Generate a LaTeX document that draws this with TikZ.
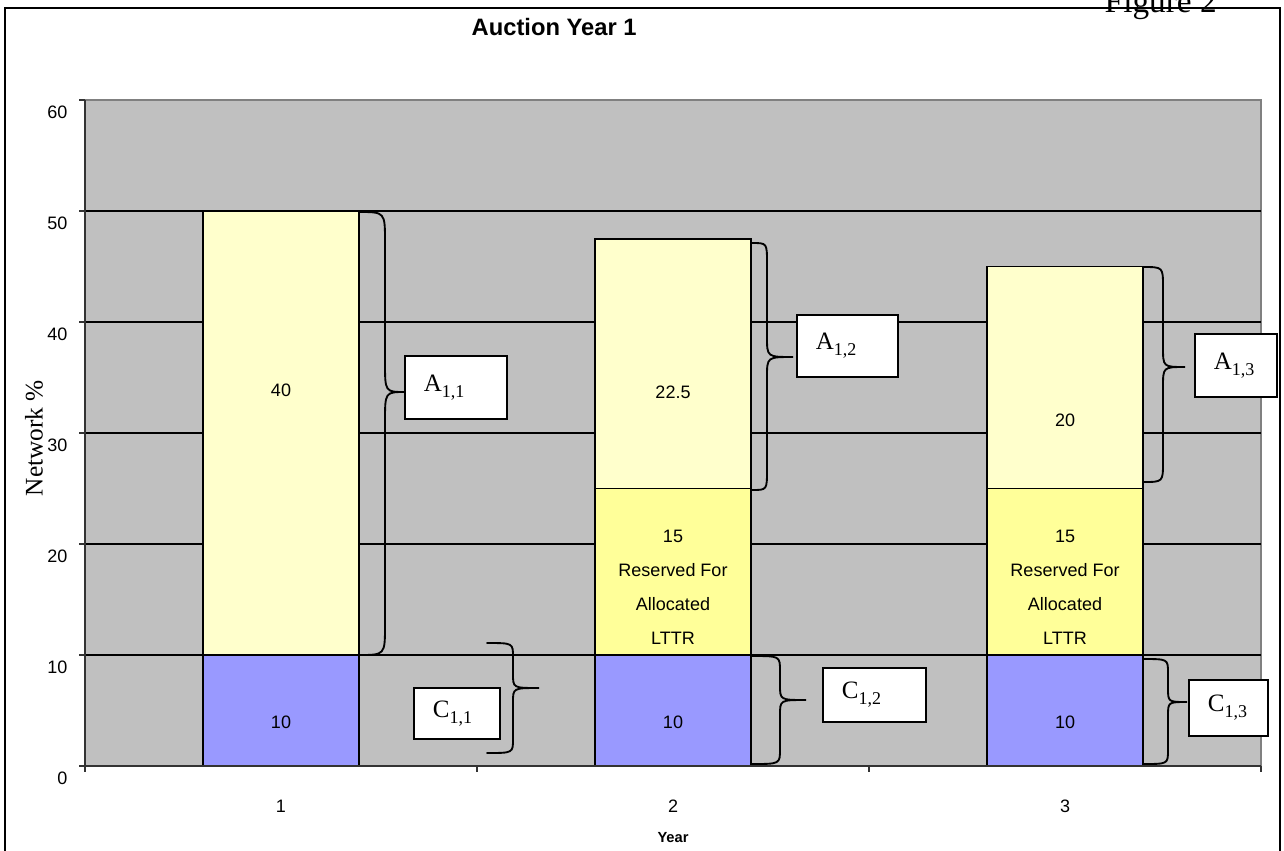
\documentclass[tikz,border=0pt]{standalone}
\usepackage{fontspec}
\setmainfont{Liberation Sans}
\newfontfamily\timesfont{Liberation Serif}
\usetikzlibrary{positioning}
\definecolor{plotgray}{HTML}{C0C0C0}
\definecolor{framegray}{HTML}{808080}
\definecolor{fixedblue}{HTML}{9999FF}
\definecolor{paleyellow}{HTML}{FFFFCC}
\definecolor{reserveyellow}{HTML}{FFFF99}
\newcommand{\lowidx}[1]{\raisebox{-4.5pt}{\fontsize{13.5}{13.5}\selectfont #1}}
% x0 x1 x2 ytop ytip ybot r
\newcommand{\curlybrace}[7]{%
  \draw[bracestroke] (#1,#4) .. controls (#2,#4) .. (#2,#4+#7) -- (#2,#5-#7)
    .. controls (#2,#5) .. (#3,#5) .. controls (#2,#5) .. (#2,#5+#7)
    -- (#2,#6-#7) .. controls (#2,#6) .. (#1,#6);}
\tikzset{
  barseg/.style={draw=black, line width=1.3pt, minimum width=117pt, anchor=south west, inner sep=0pt, outer sep=0pt},
  barlabel/.style={font=\fontsize{13.5}{25.5}\selectfont, align=center},
  ticklabel/.style={font=\fontsize{13.5}{16}\selectfont},
  labelbox/.style={draw=black, line width=1.3pt, fill=white, anchor=north west, inner xsep=14.25pt, inner ysep=0pt, align=left, font=\timesfont\fontsize{18.75}{20}\selectfont},
  bracestroke/.style={line width=1.4pt, line cap=round},
  gridline/.style={black, line width=0.8pt}
}
\begin{document}
\begin{tikzpicture}[x=0.75pt, y=-0.75pt]
    \useasboundingbox (0,0) rectangle (1284,850);
    % frame and plot area
    \draw[line width=1.2pt] (5,8) rectangle (1280,860);
    \draw[framegray, fill=plotgray, line width=1.2pt] (85,100) rectangle (1261,766);
    \foreach \v in {10,20,...,50}
        \draw[gridline] (85,{766-11.1*\v}) -- (1261,{766-11.1*\v});
    
    % bars
    \node[barseg, fill=fixedblue, minimum height=83.25pt] (b1lo) at (203,766) {};
    \node[barseg, fill=paleyellow, minimum height=333pt] (b1hi) at (203,655) {};
    \node[barseg, fill=fixedblue, minimum height=83.25pt] (b2lo) at (595,766) {};
    \node[barseg, fill=reserveyellow, minimum height=124.875pt] (b2mid) at (595,655) {};
    \node[barseg, fill=paleyellow, minimum height=187.3pt] (b2hi) at (595,488.5) {};
    \node[barseg, fill=fixedblue, minimum height=83.25pt] (b3lo) at (987,766) {};
    \node[barseg, fill=reserveyellow, minimum height=124.875pt] (b3mid) at (987,655) {};
    \node[barseg, fill=paleyellow, minimum height=166.5pt] (b3hi) at (987,488.5) {};
    
    % axes
    \draw[black!80, line width=1pt] (85,100) -- (85,772);
    \draw[black!80, line width=1pt] (79,766) -- (1261,766);
    \foreach \v in {0,10,...,60} {
        \draw[black!80, line width=1pt] (79,{766-11.1*\v}) -- (85,{766-11.1*\v});
        \node[ticklabel, anchor=east] (ytick\v) at (72,{778-11.1*\v}) {\v};
    }
    \foreach \x in {477,869,1261}
        \draw[black!80, line width=1pt] (\x,766) -- (\x,772);
    \node[ticklabel] (xtick1) at (281,806) {1};
    \node[ticklabel] (xtick2) at (673,806) {2};
    \node[ticklabel] (xtick3) at (1065,806) {3};
    
    % bar values
    \node[barlabel] (v1lo) at (281,722) {10};
    \node[barlabel] (v1hi) at (281,390) {40};
    \node[barlabel] (v2lo) at (673,722) {10};
    \node[barlabel] (v2mid) at (673,587) {15\\Reserved For\\Allocated\\LTTR};
    \node[barlabel] (v2hi) at (673,392) {22.5};
    \node[barlabel] (v3lo) at (1065,722) {10};
    \node[barlabel] (v3mid) at (1065,587) {15\\Reserved For\\Allocated\\LTTR};
    \node[barlabel] (v3hi) at (1065,420) {20};
    
    % braces
    \curlybrace{359}{385}{405}{212}{392}{655}{30}
    \curlybrace{752}{767}{793}{243}{357}{490}{20}
    \curlybrace{1143}{1163}{1185}{267}{367}{482}{20}
    \curlybrace{487}{513}{539}{643}{688}{753}{14}
    \curlybrace{752}{780}{806}{656}{700}{764}{15}
    \curlybrace{1143}{1168}{1187}{659}{702}{764}{14}
    
    % boxes
    \node[labelbox, text width=48pt, minimum height=47.25pt] (a11) at (404,355) {A\lowidx{1,1}};
    \node[labelbox, text width=47.25pt, minimum height=46.5pt] (a12) at (796,314) {A\lowidx{1,2}};
    \node[labelbox, text width=33pt, minimum height=47.25pt] (a13) at (1194,333) {A\lowidx{1,3}};
    \node[labelbox, text width=36pt, minimum height=38.25pt] (c11) at (413,687) {C\lowidx{1,1}};
    \node[labelbox, text width=48.75pt, minimum height=40.5pt] (c12) at (822,667) {C\lowidx{1,2}};
    \node[labelbox, text width=30.75pt, minimum height=42pt] (c13) at (1188,679) {C\lowidx{1,3}};
    
    % titles
    \node[font=\bfseries\fontsize{17.8}{20}\selectfont, anchor=base west] (title) at (467,35) {Auction Year 1};
    \node[font=\timesfont\fontsize{25}{25}\selectfont, anchor=base west] (figno) at (1100,12) {Figure 2};
    \node[font=\timesfont\fontsize{19}{19}\selectfont, rotate=90] (ylabel) at (34,438) {Network \%};
    \node[font=\bfseries\fontsize{11}{12}\selectfont] (xlabel) at (673,838) {Year};
\end{tikzpicture}
\end{document}
